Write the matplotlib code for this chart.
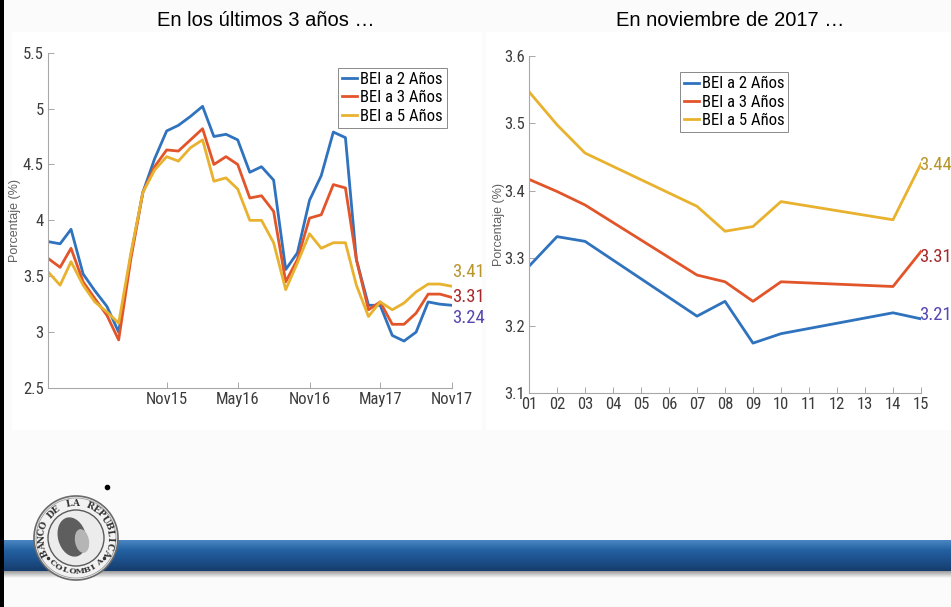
import numpy as np
import pandas as pd
import matplotlib
matplotlib.use("Agg")
import matplotlib.pyplot as plt
import matplotlib.dates as mdates
from matplotlib import font_manager
from matplotlib.patches import Circle, Ellipse, Rectangle

# ---- data ----
# monthly BEI (break-even inflation), last three years
meses = pd.date_range("2015-01-01", periods=35, freq="MS")
bei2_mes = [3.81, 3.79, 3.92, 3.52, 3.37, 3.23, 3.00, 3.68, 4.25, 4.55,
            4.80, 4.85, 4.93, 5.02, 4.75, 4.77, 4.72, 4.43, 4.48, 4.36,
            3.56, 3.71, 4.18, 4.40, 4.79, 4.74, 3.65, 3.24, 3.24, 2.97,
            2.92, 3.00, 3.27, 3.25, 3.24]
bei3_mes = [3.66, 3.58, 3.75, 3.45, 3.30, 3.15, 2.93, 3.65, 4.25, 4.48,
            4.63, 4.62, 4.72, 4.82, 4.50, 4.57, 4.50, 4.20, 4.22, 4.08,
            3.45, 3.65, 4.02, 4.05, 4.32, 4.29, 3.65, 3.20, 3.27, 3.07,
            3.07, 3.17, 3.34, 3.34, 3.31]
bei5_mes = [3.54, 3.42, 3.63, 3.42, 3.27, 3.18, 3.08, 3.70, 4.25, 4.45,
            4.57, 4.53, 4.65, 4.72, 4.35, 4.38, 4.28, 4.00, 4.00, 3.80,
            3.38, 3.62, 3.88, 3.75, 3.80, 3.80, 3.42, 3.14, 3.27, 3.20,
            3.26, 3.36, 3.43, 3.43, 3.41]

# daily BEI, November 2017 (business days)
dias = [1, 2, 3, 7, 8, 9, 10, 14, 15]
bei2_dia = [3.288, 3.332, 3.325, 3.214, 3.236, 3.174, 3.188, 3.219, 3.21]
bei3_dia = [3.417, 3.399, 3.379, 3.275, 3.265, 3.236, 3.265, 3.258, 3.31]
bei5_dia = [3.547, 3.498, 3.456, 3.377, 3.340, 3.347, 3.384, 3.357, 3.44]

etiquetas = ["BEI a 2 Años", "BEI a 3 Años", "BEI a 5 Años"]
colores = ["#2f72bd", "#e2552a", "#e8b22e"]
colores_valor = ["#5548b0", "#a5292c", "#b8962e"]

# ---- fonts ----
disponibles = {f.name for f in font_manager.fontManager.ttflist}
narrow = "DejaVu Sans"
for cand in ["Roboto Condensed", "Archivo Narrow", "Liberation Sans Narrow"]:
    if cand in disponibles:
        narrow = cand
        break
plt.rcParams["font.family"] = ["Liberation Sans", "DejaVu Sans"]

fig = plt.figure(figsize=(9.51, 6.07), dpi=100, facecolor="#fbfbfb")

# ---- slide decoration in pixel coordinates ----
bg = fig.add_axes([0, 0, 1, 1], zorder=0)
bg.set_xlim(0, 951)
bg.set_ylim(607, 0)
bg.axis("off")
bg.add_patch(Rectangle((12, 32), 470, 398, color="white", lw=0))
bg.add_patch(Rectangle((486, 32), 465, 398, color="white", lw=0))
bg.add_patch(Rectangle((0, 0), 3.5, 607, color="black", lw=0))

grad = np.linspace(0, 1, 64)[:, None]
band_cmap = matplotlib.colors.LinearSegmentedColormap.from_list(
    "band", ["#4a86c2", "#2360a0", "#1c4f8a", "#163d6c"])
bg.imshow(grad, extent=[4, 951, 571, 540], cmap=band_cmap, aspect="auto", zorder=1)
shadow = matplotlib.colors.LinearSegmentedColormap.from_list("sh", ["#9a9a9a", "#fbfbfb"])
bg.imshow(grad, extent=[4, 951, 578, 571], cmap=shadow, aspect="auto", zorder=1)

# logo
cx, cy = 76, 538
bg.add_patch(Circle((cx, cy), 42, facecolor="#f2f2f2", edgecolor="#6a6a6a", lw=1.2, zorder=3))
bg.add_patch(Circle((cx, cy), 40, facecolor="none", edgecolor="#9a9a9a", lw=0.6, zorder=3))
bg.add_patch(Circle((cx, cy), 28, facecolor="#ececec", edgecolor="#5a5a5a", lw=1.0, zorder=3))
bg.add_patch(Ellipse((cx - 4, cy - 1), 28, 40, angle=-15, facecolor="#5e5e5e", lw=0, zorder=3))
bg.add_patch(Ellipse((cx + 6, cy + 3), 14, 24, angle=-10, facecolor="#b5b5b5", lw=0, zorder=3))


def texto_arco(txt, ang0, ang1, r, arriba=True, size=7):
    angs = np.linspace(ang0, ang1, len(txt))
    for ch, a in zip(txt, angs):
        x = cx + r * np.cos(np.radians(a))
        y = cy - r * np.sin(np.radians(a))
        rot = a - 90 if arriba else a + 90
        bg.text(x, y, ch, rotation=rot, ha="center", va="center", fontsize=size,
                fontweight="bold", color="#333333", zorder=4, family="DejaVu Serif")


texto_arco("BANCO DE LA REPUBLICA", 205, -25, 34.5, size=6.5)
texto_arco("COLOMBIA", 226, 314, 34, arriba=False, size=6)
for a in (215, 325):
    bg.plot([cx + 34.5 * np.cos(np.radians(a))], [cy - 34.5 * np.sin(np.radians(a))],
            "o", color="#333333", ms=1.5, zorder=4)
bg.plot([107], [487], "o", color="black", ms=3, zorder=3)

fig.text(266 / 951, 1 - 21 / 607, "En los últimos 3 años …", ha="center", va="center",
         fontsize=14.5, color="black")
fig.text(730 / 951, 1 - 21 / 607, "En noviembre de 2017 …", ha="center", va="center",
         fontsize=14.5, color="black")


def estilo(ax):
    for s in ["top", "right"]:
        ax.spines[s].set_visible(False)
    for s in ["left", "bottom"]:
        ax.spines[s].set_color("#a8a8a8")
        ax.spines[s].set_linewidth(0.8)
    ax.tick_params(direction="in", length=4, width=0.7, color="#a8a8a8",
                   labelcolor="#3c3c3c", labelsize=12, pad=3)
    for lab in ax.get_xticklabels() + ax.get_yticklabels():
        lab.set_family(narrow)
    ax.set_ylabel("Porcentaje (%)", fontsize=9, color="#606060")
    ax.patch.set_alpha(0)


# ---- left: last three years ----
ax1 = fig.add_axes([48 / 951, 1 - 388 / 607, 404 / 951, 335.3 / 607], zorder=2)
for serie, c, lab in zip([bei2_mes, bei3_mes, bei5_mes], colores, etiquetas):
    ax1.plot(meses, serie, color=c, lw=2.0, label=lab)
ax1.set_xlim(meses[0], meses[-1])
ax1.set_ylim(2.5, 5.5)
ax1.set_yticks([2.5, 3, 3.5, 4, 4.5, 5, 5.5])
ax1.set_yticklabels(["2.5", "3", "3.5", "4", "4.5", "5", "5.5"])
ax1.set_xticks([meses[i] for i in [10, 16, 22, 28, 34]])
ax1.xaxis.set_major_formatter(mdates.DateFormatter("%b%y"))
estilo(ax1)
ax1.yaxis.set_label_coords(-0.068, 0.5)

for serie, cv, dy in zip([bei2_mes, bei3_mes, bei5_mes], colores_valor, [-9.5, 0, 10]):
    ax1.annotate(f"{serie[-1]:.2f}", (meses[-1], serie[-1]), xytext=(0, dy),
                 textcoords="offset points", ha="left", va="center", fontsize=13.5,
                 color=cv, family=narrow, annotation_clip=False)

leg1 = ax1.legend(loc="upper left", bbox_to_anchor=(0.718, 0.955), prop={"family": narrow, "size": 12},
                  frameon=True, fancybox=False, edgecolor="#8a8a8a", framealpha=1,
                  handlelength=0.9, handletextpad=0.15, borderpad=0.25, labelspacing=0.2,
                  borderaxespad=0)
leg1.get_frame().set_linewidth(0.7)

# ---- right: November 2017 ----
ax2 = fig.add_axes([529 / 951, 1 - 393 / 607, 392 / 951, 337 / 607], zorder=2)
for serie, c, lab in zip([bei2_dia, bei3_dia, bei5_dia], colores, etiquetas):
    ax2.plot(dias, serie, color=c, lw=2.0, label=lab)
ax2.set_xlim(1, 15)
ax2.set_ylim(3.1, 3.6)
ax2.set_xticks(range(1, 16))
ax2.set_xticklabels([f"{d:02d}" for d in range(1, 16)])
ax2.set_yticks([3.1, 3.2, 3.3, 3.4, 3.5, 3.6])
estilo(ax2)
ax2.yaxis.set_label_coords(-0.062, 0.5)

for serie, cv, dy in zip([bei2_dia, bei3_dia, bei5_dia], colores_valor, [3, -4, -1]):
    ax2.annotate(f"{serie[-1]:.2f}", (dias[-1], serie[-1]), xytext=(-1, dy),
                 textcoords="offset points", ha="left", va="center", fontsize=13.5,
                 color=cv, family=narrow, annotation_clip=False)

leg2 = ax2.legend(loc="upper left", bbox_to_anchor=(0.385, 0.952), prop={"family": narrow, "size": 12},
                  frameon=True, fancybox=False, edgecolor="#8a8a8a", framealpha=1,
                  handlelength=0.9, handletextpad=0.15, borderpad=0.25, labelspacing=0.2,
                  borderaxespad=0)
leg2.get_frame().set_linewidth(0.7)

fig.savefig("out.png", dpi=100, facecolor=fig.get_facecolor())
